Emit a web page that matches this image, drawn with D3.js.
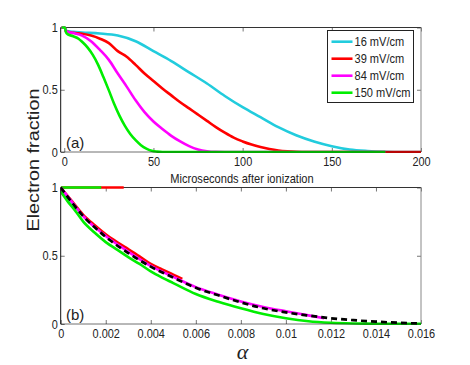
<!DOCTYPE html>
<html>
<head>
<meta charset="utf-8">
<script src="https://cdn.jsdelivr.net/npm/d3@7"></script>
<style>
  body { margin: 0; background: #fff; }
  svg text { fill: #222; }
</style>
</head>
<body>
<svg id="chart" width="470" height="365"></svg>
<script>
// ---- data (a): electron fraction vs time, microseconds
var timeLabels = ["16 mV/cm", "39 mV/cm", "84 mV/cm", "150 mV/cm"];
var timeColors = ["#22ccdd", "#ff0000", "#ff00ff", "#00ee00"];

var t16 = [-1.5, 0.3, 1, 5, 10, 20, 30, 40, 50, 60, 70, 80, 90, 100, 110, 120, 130, 140, 150, 160, 170, 180, 190, 200];
var v16 = [1, 1, 0.975, 0.965, 0.96, 0.952, 0.935, 0.89, 0.81, 0.73, 0.64, 0.55, 0.45, 0.36, 0.28, 0.2, 0.135, 0.085, 0.047, 0.02, 0.008, 0.002, 0, 0];

var t39 = [-1.5, 0.3, 1, 5, 10, 15, 20, 25, 30, 35, 40, 45, 50, 55, 60, 65, 70, 75, 80, 85, 90, 95, 100, 105, 110, 115, 120, 125, 130, 140, 200];
var v39 = [1, 1, 0.97, 0.958, 0.95, 0.935, 0.91, 0.875, 0.81, 0.765, 0.70, 0.63, 0.57, 0.51, 0.455, 0.40, 0.35, 0.30, 0.25, 0.20, 0.155, 0.115, 0.085, 0.06, 0.04, 0.024, 0.012, 0.005, 0.001, 0, 0];

var t84 = [-1.5, 0.3, 1, 5, 10, 15, 20, 25, 30, 35, 40, 45, 50, 55, 60, 65, 70, 75, 80, 85, 90, 180];
var v84 = [1, 1, 0.97, 0.955, 0.935, 0.89, 0.82, 0.74, 0.63, 0.525, 0.415, 0.32, 0.245, 0.185, 0.13, 0.085, 0.047, 0.02, 0.006, 0.001, 0, 0];

var t150 = [-1.5, 0.3, 1, 2, 5, 8, 10, 13, 16, 19, 22, 25, 28, 31, 34, 37, 40, 43, 46, 49, 52, 55, 180];
var v150 = [1, 1, 0.96, 0.945, 0.93, 0.91, 0.885, 0.84, 0.78, 0.70, 0.60, 0.495, 0.385, 0.29, 0.21, 0.145, 0.095, 0.055, 0.027, 0.01, 0.003, 0, 0];

var timeX = [t16, t39, t84, t150];
var timeY = [v16, v39, v84, v150];

// ---- data (b): electron fraction vs alpha
var a16 = [0, 0.0003, 0.0006, 0.0009];
var b16 = [1, 0.93, 0.87, 0.815];

var a39 = [0, 0.0005, 0.001, 0.0015, 0.002, 0.0025, 0.003, 0.0035, 0.004, 0.0045, 0.005, 0.0054];
var b39 = [1, 0.9, 0.8, 0.725, 0.657, 0.6, 0.548, 0.495, 0.44, 0.4, 0.362, 0.33];

var a84 = [0, 0.0005, 0.001, 0.002, 0.003, 0.004, 0.005, 0.006, 0.007, 0.008, 0.009, 0.01, 0.011, 0.0117];
var b84 = [1, 0.895, 0.79, 0.645, 0.53, 0.425, 0.345, 0.27, 0.215, 0.165, 0.125, 0.093, 0.063, 0.042];

var a150 = [0, 0.0003, 0.0006, 0.001, 0.0015, 0.002, 0.0025, 0.003, 0.0035, 0.004, 0.0045, 0.005, 0.006, 0.007, 0.008, 0.009, 0.01, 0.011, 0.012, 0.013, 0.014, 0.016];
var b150 = [0.97, 0.9, 0.84, 0.75, 0.67, 0.6, 0.545, 0.49, 0.44, 0.385, 0.34, 0.3, 0.22, 0.163, 0.115, 0.073, 0.042, 0.02, 0.009, 0.004, 0.002, 0.001];

var aFit = [0, 0.0005, 0.001, 0.0015, 0.002, 0.003, 0.004, 0.005, 0.006, 0.007, 0.008, 0.009, 0.01, 0.011, 0.012, 0.013, 0.014, 0.015, 0.016];
var bFit = [1, 0.89, 0.79, 0.71, 0.638, 0.52, 0.42, 0.34, 0.265, 0.21, 0.158, 0.115, 0.085, 0.062, 0.042, 0.028, 0.017, 0.009, 0.003];

// flat pieces at 1 near alpha = 0
var flatRed = [0, 0.0028];
var flatGreen = [0, 0.0018];

var alphaX = [a16, a39, a84, a150];
var alphaY = [b16, b39, b84, b150];

var timeTicks = [0, 50, 100, 150, 200];
var alphaTicks = [0, 0.002, 0.004, 0.006, 0.008, 0.01, 0.012, 0.014, 0.016];
var fracTicks = [0, 0.5, 1];

// ---- layout
var svg = d3.select("#chart");
var left = 60.7, right = 421;
var sans = "'Liberation Sans', Arial, sans-serif";

var xTime = d3.scaleLinear().domain([-2, 200]).range([left, right]);
var yTop = d3.scaleLinear().domain([0, 1]).range([152, 27.5]);
var xAlpha = d3.scaleLinear().domain([0, 0.016]).range([left, right]);
var yBot = d3.scaleLinear().domain([0, 1]).range([324, 187.5]);

function fmt(d) { return String(+d.toFixed(3)); }

// squeeze text horizontally, the original uses a condensed face
function narrow(sel, k) {
  sel.each(function() {
    var w = this.getComputedTextLength();
    if (w > 0) d3.select(this).attr("textLength", w * k).attr("lengthAdjust", "spacingAndGlyphs");
  });
}

function drawFrame(name, x, y, xticks) {
  var g = svg.append("g").attr("class", name);
  var x0 = x.range()[0], x1 = x.range()[1];
  var y0 = y.range()[0], y1 = y.range()[1];

  // bottom axis, ticks pointing in
  g.append("g")
    .attr("transform", "translate(0," + y0 + ")")
    .call(d3.axisBottom(x).tickValues(xticks).tickFormat(fmt).tickSizeInner(-4).tickSizeOuter(0))
    .call(function(a) {
      a.select(".domain").remove();
      a.selectAll("line").attr("stroke", "#777");
      a.selectAll("text").attr("font-family", sans).attr("font-size", "13px").attr("fill", "#222").attr("dy", "0.71em").attr("y", 5)
        .call(narrow, 0.84);
    });

  // top ticks
  g.append("g")
    .attr("transform", "translate(0," + y1 + ")")
    .call(d3.axisTop(x).tickValues(xticks).tickFormat("").tickSizeInner(-4).tickSizeOuter(0))
    .call(function(a) { a.select(".domain").remove(); a.selectAll("line").attr("stroke", "#777"); });

  // left axis
  g.append("g")
    .attr("transform", "translate(" + x0 + ",0)")
    .call(d3.axisLeft(y).tickValues(fracTicks).tickFormat(fmt).tickSizeInner(-4).tickSizeOuter(0))
    .call(function(a) {
      a.select(".domain").remove();
      a.selectAll("line").attr("stroke", "#777");
      a.selectAll("text").attr("font-family", sans).attr("font-size", "13px").attr("fill", "#222").attr("x", -3)
        .call(narrow, 0.84);
    });

  // right ticks
  g.append("g")
    .attr("transform", "translate(" + x1 + ",0)")
    .call(d3.axisRight(y).tickValues(fracTicks).tickFormat("").tickSizeInner(-4).tickSizeOuter(0))
    .call(function(a) { a.select(".domain").remove(); a.selectAll("line").attr("stroke", "#777"); });

  // box
  g.append("line").attr("x1", x0).attr("x2", x1).attr("y1", y1).attr("y2", y1).attr("stroke", "#333");
  g.append("line").attr("x1", x1).attr("x2", x1).attr("y1", y1).attr("y2", y0).attr("stroke", "#888");

  svg.append("clipPath").attr("id", "clip-" + name)
    .append("rect").attr("x", x0).attr("y", y1 - 2).attr("width", x1 - x0 + 1).attr("height", y0 - y1 + 3);

  return g;
}

function drawSeries(name, x, y, xs, ys, color, dash) {
  var pts = xs.map(function(d, i) { return [d, ys[i]]; });
  var line = d3.line()
    .x(function(d) { return x(d[0]); })
    .y(function(d) { return y(d[1]); })
    .curve(d3.curveMonotoneX);
  svg.append("path")
    .datum(pts)
    .attr("clip-path", "url(#clip-" + name + ")")
    .attr("d", line)
    .attr("fill", "none")
    .attr("stroke", color)
    .attr("stroke-width", dash ? 2.7 : 2.6)
    .attr("stroke-dasharray", dash || null)
    .attr("stroke-linejoin", "round");
}

// panel (a)
drawFrame("top", xTime, yTop, timeTicks);
timeX.forEach(function(xs, i) {
  drawSeries("top", xTime, yTop, xs, timeY[i], timeColors[i]);
});
// left and bottom axis lines over the curves
svg.append("line").attr("x1", left).attr("x2", left).attr("y1", 27.5).attr("y2", 152).attr("stroke", "#111");
svg.append("line").attr("x1", left).attr("x2", right).attr("y1", 152).attr("y2", 152).attr("stroke", "#111").attr("stroke-opacity", 0.6);

// panel (b)
drawFrame("bot", xAlpha, yBot, alphaTicks);
drawSeries("bot", xAlpha, yBot, flatRed, [1, 1], timeColors[1]);
drawSeries("bot", xAlpha, yBot, flatGreen, [1, 1], timeColors[3]);
alphaX.forEach(function(xs, i) {
  drawSeries("bot", xAlpha, yBot, xs, alphaY[i], timeColors[i]);
});
drawSeries("bot", xAlpha, yBot, aFit, bFit, "#000", "6,4");
svg.append("line").attr("x1", left).attr("x2", left).attr("y1", 187.5).attr("y2", 324).attr("stroke", "#111");
svg.append("line").attr("x1", left).attr("x2", right).attr("y1", 324).attr("y2", 324).attr("stroke", "#111").attr("stroke-opacity", 0.6);

// legend
var lg = svg.append("g").attr("transform", "translate(327.5,30.5)");
lg.append("rect").attr("width", 86).attr("height", 72).attr("fill", "#fff").attr("stroke", "#222");
timeLabels.forEach(function(label, i) {
  var yy = 11.2 + i * 17;
  lg.append("line").attr("x1", 4).attr("x2", 25).attr("y1", yy).attr("y2", yy)
    .attr("stroke", timeColors[i]).attr("stroke-width", 2.6);
  lg.append("text").attr("x", 27).attr("y", yy).attr("dy", "0.36em")
    .attr("font-family", sans).attr("font-size", "13px").text(label)
    .call(narrow, 0.85);
});

// panel labels
svg.append("text").attr("x", 66).attr("y", 147.5).attr("font-family", sans)
  .attr("font-size", "15px").text("(a)");
svg.append("text").attr("x", 66).attr("y", 319.5).attr("font-family", sans)
  .attr("font-size", "15px").text("(b)");

// axis titles
svg.append("text").attr("x", 242).attr("y", 182.5).attr("text-anchor", "middle")
  .attr("font-family", sans).attr("font-size", "13.5px").text("Microseconds after ionization")
  .call(narrow, 0.82);
svg.append("text").attr("x", 242.5).attr("y", 359).attr("text-anchor", "middle")
  .attr("font-family", "'Liberation Serif', serif").attr("font-style", "italic").attr("font-size", "22px").text("α");
svg.append("text")
  .attr("transform", "translate(39,160) rotate(-90)")
  .attr("text-anchor", "middle")
  .attr("font-family", sans)
  .attr("font-size", "16px")
  .attr("textLength", 143).attr("lengthAdjust", "spacingAndGlyphs")
  .text("Electron fraction");
</script>
</body>
</html>
